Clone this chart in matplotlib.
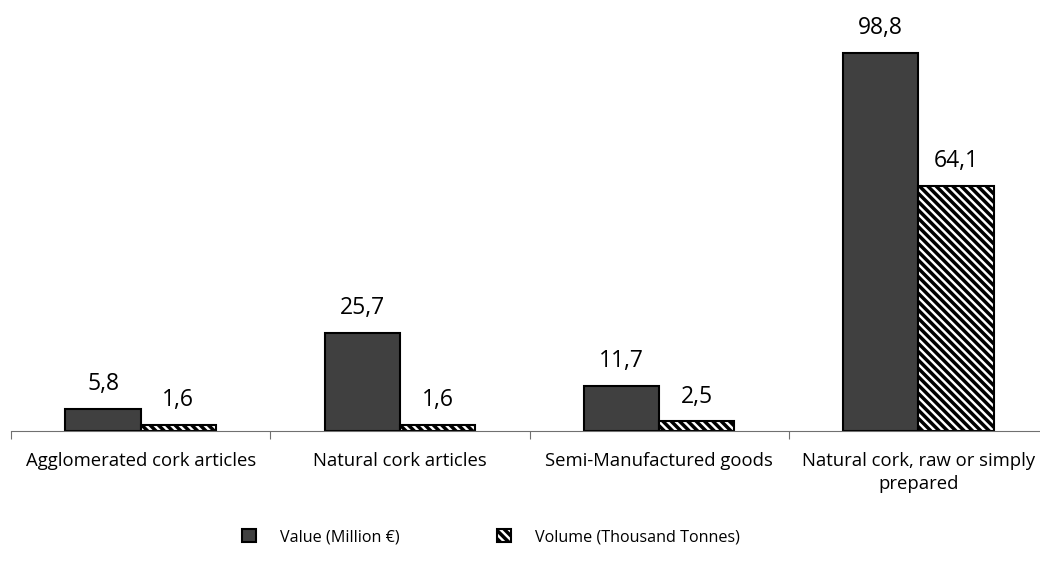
import numpy as np
import matplotlib.pyplot as plt

plt.rcParams['font.family'] = ['Open Sans', 'DejaVu Sans']
plt.rcParams['hatch.linewidth'] = 2.5

# data
categories = ['Agglomerated cork articles', 'Natural cork articles',
              'Semi-Manufactured goods', 'Natural cork, raw or simply\nprepared']
value_meur = [5.8, 25.7, 11.7, 98.8]
volume_kt = [1.6, 1.6, 2.5, 64.1]
series_names = ['Value (Million €)', 'Volume (Thousand Tonnes)']

fig = plt.figure(figsize=(10.4, 5.72), dpi=100)
# axes spans slightly past the right edge like the original
ax = fig.add_axes([11 / 1040, 141 / 572, 1037 / 1040, 411 / 572])

x = np.arange(len(categories))
w = 0.29
b1 = ax.bar(x - w / 2, value_meur, w, color='#404040', edgecolor='black',
            linewidth=1.5, label=series_names[0])
b2 = ax.bar(x + w / 2, volume_kt, w, color='white', edgecolor='black',
            hatch='\\\\\\\\', linewidth=1.5, label=series_names[1])

def fmt(v):
    return f'{v:.1f}'.replace('.', ',')

for bars, vals in [(b1, value_meur), (b2, volume_kt)]:
    for r, v in zip(bars, vals):
        ax.annotate(fmt(v), (r.get_x() + r.get_width() / 2, v),
                    xytext=(0, 13.5), textcoords='offset points',
                    ha='center', va='baseline', fontsize=16.5)

ax.set_xlim(-0.5, len(categories) - 0.5)
ax.set_ylim(0, 411 / 3.826)
ax.set_xticks(x - 0.5, minor=False)
ax.set_xticklabels([''] * len(categories))
ax.set_xticks(x, minor=True)
ax.set_xticklabels(categories, minor=True, fontsize=13.3, linespacing=1.4)
ax.tick_params(axis='x', which='major', length=6, color='#707070')
ax.tick_params(axis='x', which='minor', length=0, pad=15)
ax.set_yticks([])
for s in ['top', 'right', 'left']:
    ax.spines[s].set_visible(False)
ax.spines['bottom'].set_color('#707070')

fig.legend(handles=[b1, b2], loc='center', bbox_to_anchor=(491 / 1040, 35 / 572),
           ncol=2, frameon=False, fontsize=11.6, handlelength=0.9, handleheight=0.9,
           handletextpad=1.5, columnspacing=6.0)

fig.savefig('out.png', dpi=100)
